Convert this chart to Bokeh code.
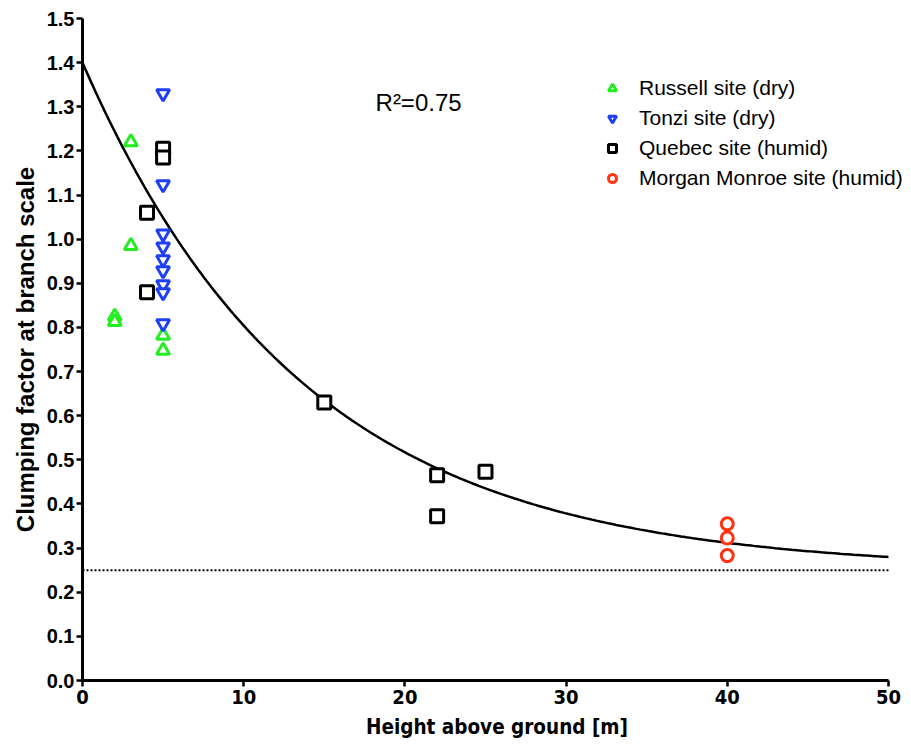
import numpy as np
from bokeh.plotting import figure
from bokeh.models import FixedTicker, NumeralTickFormatter, Legend, LegendItem, Label
from bokeh.embed import file_html
from bokeh.resources import INLINE

# Data
russell_x = [3, 3, 2, 2, 5, 5]
russell_y = [1.22, 0.985, 0.825, 0.813, 0.782, 0.748]

tonzi_x = [5, 5, 5, 5, 5, 5, 5, 5, 5]
tonzi_y = [1.33, 1.124, 1.012, 0.983, 0.954, 0.929, 0.897, 0.879, 0.809]

quebec_x = [5, 5, 4, 4, 15, 22, 22, 25]
quebec_y = [1.205, 1.185, 1.06, 0.88, 0.63, 0.465, 0.372, 0.473]

morgan_x = [40, 40, 40]
morgan_y = [0.355, 0.323, 0.283]

# Fitted one-phase decay model shown in the chart
fit_y0 = 1.40
fit_plateau = 0.25
fit_k = 0.073
r2_text = "R\u00b2=0.75"

x_ticks = [0, 10, 20, 30, 40, 50]
y_ticks = [round(0.1 * i, 1) for i in range(16)]

BOLD_FONT = "Liberation Sans"
NARROW_FONT = "'Liberation Sans Narrow', 'DejaVu Sans Condensed', 'Liberation Sans'"

# frame reaches the right window edge so the legend text is not clipped;
# the x axis itself is bounded to 0..50
p = figure(width=911, height=744, output_backend="svg", toolbar_location=None,
           x_range=(0, 51.43), y_range=(0, 1.5),
           min_border_left=82, min_border_right=0, min_border_top=18, min_border_bottom=64)
p.outline_line_color = None
p.xgrid.visible = False
p.ygrid.visible = False
p.background_fill_color = "white"

# Axes
for ax in (p.xaxis[0], p.yaxis[0]):
    ax.axis_line_width = 3
    ax.axis_line_color = "black"
    ax.major_tick_line_width = 2.5
    ax.major_tick_line_color = "black"
    ax.major_tick_out = 6
    ax.major_tick_in = 0
    ax.minor_tick_line_color = None
    ax.major_label_text_font_style = "bold"
    ax.major_label_text_color = "black"
    ax.axis_label_text_font_style = "bold"
    ax.axis_label_text_color = "black"

p.xaxis.bounds = (0, 50)
p.xaxis.ticker = FixedTicker(ticks=x_ticks)
p.yaxis.ticker = FixedTicker(ticks=y_ticks)
p.yaxis.formatter = NumeralTickFormatter(format="0.0")
p.xaxis.major_label_text_font = NARROW_FONT
p.xaxis.major_label_text_font_size = "20px"
p.yaxis.major_label_text_font = BOLD_FONT
p.yaxis.major_label_text_font_size = "20px"
p.yaxis.major_label_standoff = 2
p.xaxis.major_label_standoff = 3

p.xaxis.axis_label = "Height above ground [m]"
p.xaxis.axis_label_text_font = NARROW_FONT
p.xaxis.axis_label_text_font_size = "20.5px"
p.xaxis.axis_label_standoff = 8
p.yaxis.axis_label = "Clumping factor at branch scale"
p.yaxis.axis_label_text_font = BOLD_FONT
p.yaxis.axis_label_text_font_size = "24px"
p.yaxis.axis_label_standoff = 5

# Fit curve and plateau
xs = np.linspace(0, 50, 300)
ys = fit_plateau + (fit_y0 - fit_plateau) * np.exp(-fit_k * xs)
p.line(xs, ys, line_color="black", line_width=2.5)
p.line([0, 50], [fit_plateau, fit_plateau], line_color="black", line_width=2, line_dash="2 2")

# Scatter series
r_russ = p.scatter(russell_x, russell_y, marker="triangle", size=13, line_width=3,
                   line_color="#22ee22", fill_color="white")
r_tonzi = p.scatter(tonzi_x, tonzi_y, marker="inverted_triangle", size=13, line_width=3,
                    line_color="#1f3ff5", fill_color="white")
r_queb = p.scatter(quebec_x, quebec_y, marker="square", size=13, line_width=3,
                   line_color="black", fill_color="white")
r_morg = p.scatter(morgan_x, morgan_y, marker="circle", size=12, line_width=3,
                   line_color="#ff3311", fill_color="white")

legend = Legend(items=[
    LegendItem(label="Russell site (dry)", renderers=[r_russ]),
    LegendItem(label="Tonzi site (dry)", renderers=[r_tonzi]),
    LegendItem(label="Quebec site (humid)", renderers=[r_queb]),
    LegendItem(label="Morgan Monroe site (humid)", renderers=[r_morg]),
], location=(520, 490))
legend.border_line_color = None
legend.background_fill_alpha = 0
legend.label_text_font = BOLD_FONT
legend.label_text_font_size = "21px"
legend.label_text_color = "black"
legend.spacing = 6
legend.glyph_width = 20
legend.glyph_height = 24
legend.label_standoff = 17
legend.padding = 0
p.add_layout(legend, "center")

p.add_layout(Label(x=18.18, y=1.31, text=r2_text, text_font=BOLD_FONT,
                   text_font_size="24px", text_color="black", text_baseline="alphabetic"))

open("out.html", "w").write(file_html(p, INLINE))
